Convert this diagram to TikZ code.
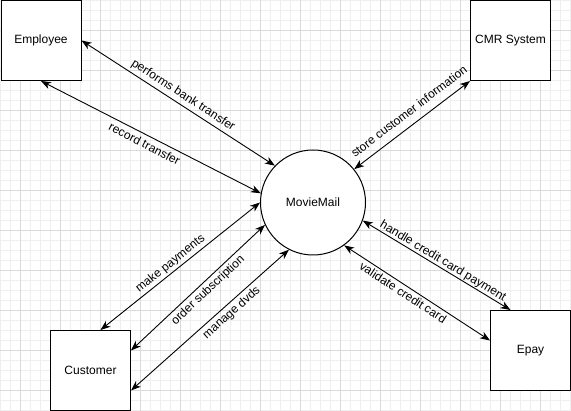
\documentclass[tikz,border=0pt]{standalone}
\usepackage{fontspec}
\setmainfont{Liberation Sans}
\usetikzlibrary{arrows.meta,calc}
\definecolor{gridminor}{HTML}{EFEFEF}
\definecolor{gridmajor}{HTML}{DADADA}
\begin{document}
\begin{tikzpicture}[x=1pt,y=-1pt,
  entity/.style={draw,line width=1pt,fill=white,minimum width=80pt,minimum height=80pt,inner sep=0pt,font=\fontsize{12}{14}\selectfont},
  proc/.style={draw,circle,line width=1pt,fill=white,minimum size=105pt,inner sep=0pt,font=\fontsize{12}{14}\selectfont},
  flow/.style={<->,line width=0.9pt,>={Stealth[length=10pt,width=7.5pt,inset=3pt]}},
  lab/.style={sloped,inner sep=0pt,font=\fontsize{12}{14}\selectfont},
  minorline/.style={gridminor,line width=0.8pt},
  majorline/.style={gridmajor,line width=0.8pt}]
\fill[white] (0,0) rectangle (571,411);
\useasboundingbox (0,0) rectangle (571,411);
\foreach \x in {0,10,...,570} \draw[minorline] (\x,0) -- (\x,411);
\foreach \y in {0,10,...,410} \draw[minorline] (0,\y) -- (571,\y);
\foreach \x in {20,60,...,560} \draw[majorline] (\x,0) -- (\x,411);
\foreach \y in {30,70,...,390} \draw[majorline] (0,\y) -- (571,\y);

\node[entity] (emp) at (41,40.5) {Employee};
\node[entity] (cmr) at (510.5,40.5) {CMR System};
\node[entity] (cust) at (90.5,370.5) {Customer};
\node[entity] (epay) at (530.5,350.5) {Epay};
\node[proc] (mm) at (313,202.5) {MovieMail};

\draw[flow] (emp.east) -- (mm.136) node[lab,pos=0.5,above=3pt]{performs bank transfer};
\draw[flow] (emp.south) -- (mm.170) node[lab,pos=0.49,below=4pt]{record transfer};
\draw[flow] (cmr.south west) -- (mm.39) node[lab,pos=0.46,above=8pt]{store customer information};
\draw[flow] ($(cust.north)+(10,0)$) -- (mm.180) node[lab,pos=0.47,above=2pt]{make payments};
\draw[flow] ($(cust.east)+(0,-20)$) -- (mm.205) node[lab,pos=0.53,below=3pt]{order subscription};
\draw[flow] ($(cust.east)+(0,20)$) -- (mm.243) node[lab,pos=0.6,below=3pt]{manage dvds};
\draw[flow] ($(epay.north)+(-20,0)$) -- (mm.340) node[lab,pos=0.48,above=0.5pt]{handle credit card payment};
\draw[flow] ($(epay.west)+(0,-10)$) -- (mm.306) node[lab,pos=0.568,below=2.5pt]{validate credit card};
\end{tikzpicture}
\end{document}
